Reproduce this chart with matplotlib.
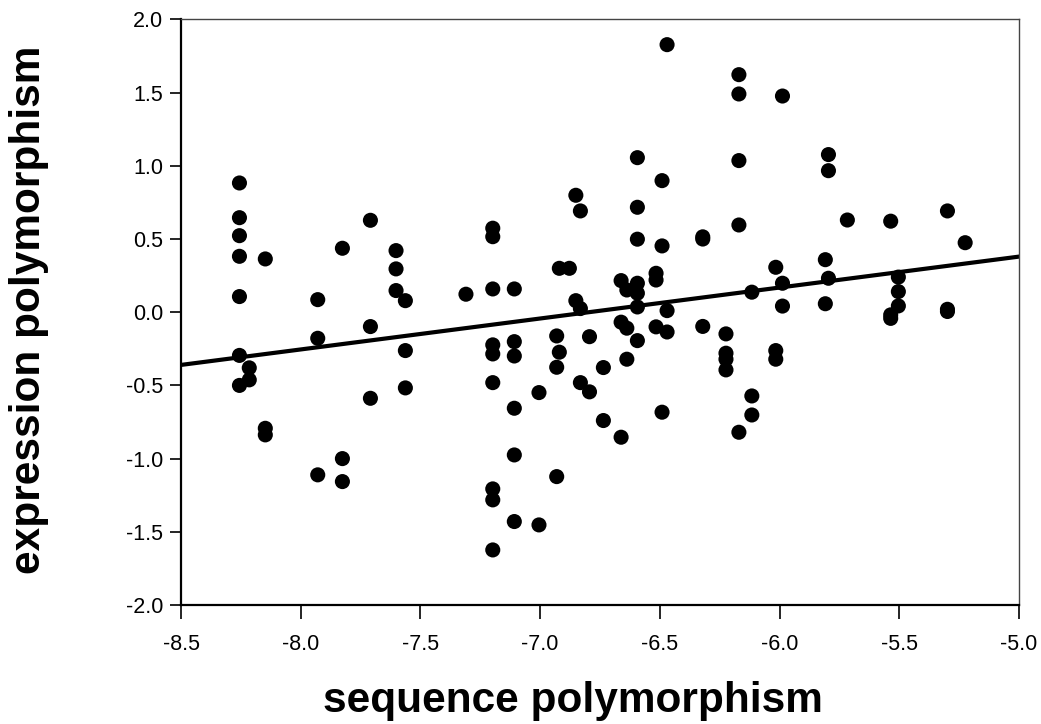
# Scatter of expression vs sequence polymorphism with fitted line

import matplotlib
matplotlib.use("Agg")
import matplotlib.pyplot as plt

# points read column by column (x value, then the y values at that x)
seq_x = [
    -8.256, -8.256, -8.256, -8.256, -8.256, -8.256, -8.256,
    -8.215, -8.215,
    -8.148, -8.148, -8.148,
    -7.929, -7.929, -7.929,
    -7.826, -7.826, -7.826,
    -7.709, -7.709, -7.709,
    -7.602, -7.602, -7.602,
    -7.563, -7.563, -7.563,
    -7.310,
    -7.198, -7.198, -7.198, -7.198, -7.198, -7.198, -7.198, -7.198, -7.198,
    -7.108, -7.108, -7.108, -7.108, -7.108, -7.108,
    -7.005, -7.005,
    -6.931, -6.931, -6.931,
    -6.920, -6.920,
    -6.878,
    -6.851, -6.851,
    -6.832, -6.832, -6.832,
    -6.794, -6.794,
    -6.736, -6.736,
    -6.662, -6.662, -6.662,
    -6.638, -6.638, -6.638,
    -6.594, -6.594, -6.594, -6.594, -6.594, -6.594, -6.594,
    -6.516, -6.516, -6.516,
    -6.491, -6.491, -6.491,
    -6.470, -6.470, -6.470,
    -6.321, -6.321, -6.321,
    -6.224, -6.224, -6.224, -6.224,
    -6.170, -6.170, -6.170, -6.170, -6.170,
    -6.116, -6.116, -6.116,
    -6.016, -6.016, -6.016,
    -5.988, -5.988, -5.988,
    -5.809, -5.809,
    -5.796, -5.796, -5.796,
    -5.717,
    -5.536, -5.536, -5.536,
    -5.504, -5.504, -5.504,
    -5.299, -5.299, -5.299,
    -5.225,
]
expr_y = [
    0.883, 0.646, 0.523, 0.382, 0.107, -0.295, -0.500,
    -0.380, -0.462,
    0.364, -0.793, -0.838,
    0.086, -0.178, -1.111,
    0.437, -1.000, -1.157,
    0.628, -0.098, -0.588,
    0.421, 0.296, 0.148,
    0.079, -0.262, -0.517,
    0.123,
    0.574, 0.516, 0.159, -0.223, -0.285, -0.481, -1.207, -1.282, -1.624,
    0.159, -0.201, -0.299, -0.656, -0.975, -1.430,
    -0.549, -1.453,
    -0.162, -0.376, -1.123,
    0.300, -0.273,
    0.300,
    0.799, 0.079,
    0.692, 0.025, -0.481,
    -0.167, -0.544,
    -0.378, -0.740,
    0.216, -0.068, -0.854,
    0.152, -0.109, -0.321,
    1.056, 0.717, 0.499, 0.198, 0.130, 0.036, -0.194,
    0.266, 0.220, -0.100,
    0.899, 0.453, -0.683,
    1.828, 0.011, -0.135,
    0.515, 0.500, -0.097,
    -0.148, -0.280, -0.321, -0.394,
    1.623, 1.491, 1.036, 0.596, -0.820,
    0.137, -0.572, -0.702,
    0.307, -0.262, -0.321,
    1.477, 0.198, 0.042,
    0.359, 0.058,
    1.077, 0.967, 0.232,
    0.630,
    0.622, -0.018, -0.042,
    0.240, 0.141, 0.043,
    0.692, 0.020, 0.005,
    0.475,
]

# regression line end points
fit_x = [-8.5, -5.0]
fit_y = [-0.36, 0.38]

x_ticks = [-8.5, -8.0, -7.5, -7.0, -6.5, -6.0, -5.5, -5.0]
y_ticks = [-2.0, -1.5, -1.0, -0.5, 0.0, 0.5, 1.0, 1.5, 2.0]

plt.rcParams['font.family'] = ['Liberation Sans', 'DejaVu Sans']

fig = plt.figure(figsize=(10.41, 7.24), dpi=100)
ax = fig.add_axes([0.1739, 0.1644, 0.8050, 0.8087])

ax.scatter(seq_x, expr_y, s=118, c='black', edgecolors='none', zorder=3)
ax.plot(fit_x, fit_y, color='black', linewidth=3, zorder=2)

ax.set_xlim(-8.5, -5.0)
ax.set_ylim(-2.0, 2.0)
ax.set_xticks(x_ticks)
ax.set_yticks(y_ticks)
ax.set_xticklabels(['%.1f' % v for v in x_ticks])
ax.set_yticklabels(['%.1f' % v for v in y_ticks])

ax.tick_params(axis='both', direction='out', labelsize=15.5, width=1.2, color='black')
ax.tick_params(axis='y', length=8, pad=5)
ax.tick_params(axis='x', length=10, pad=11)

for side in ['left', 'bottom']:
    ax.spines[side].set_linewidth(1.6)
    ax.spines[side].set_color('black')
for side in ['top', 'right']:
    ax.spines[side].set_linewidth(1.0)
    ax.spines[side].set_color('#444444')

ax.set_xlabel('sequence polymorphism', fontsize=30.5, fontweight='bold',
              va='baseline', ha='center')
ax.xaxis.set_label_coords(0.468, -0.183)
ax.set_ylabel('expression polymorphism', fontsize=30.5, fontweight='bold',
              va='center', ha='center')
ax.yaxis.set_label_coords(-0.182, 0.504)

fig.savefig('out.png', dpi=100)
